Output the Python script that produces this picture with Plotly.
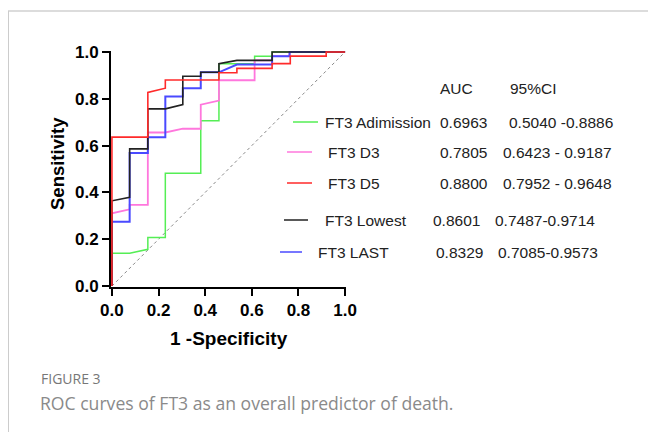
import plotly.graph_objects as go

# ---- data ----
adm_x = [0, 0, 0.076, 0.154, 0.154, 0.229, 0.229, 0.381, 0.381, 0.459, 0.459, 0.612, 0.612, 0.687, 0.687, 1.0]
adm_y = [0, 0.140, 0.140, 0.157, 0.207, 0.207, 0.482, 0.482, 0.706, 0.706, 0.950, 0.950, 0.982, 0.982, 1.0, 1.0]

d3_x = [0, 0, 0.076, 0.076, 0.154, 0.154, 0.229, 0.304, 0.381, 0.381, 0.459, 0.459, 0.612, 0.612, 0.687, 0.687, 0.762, 0.762, 1.0]
d3_y = [0, 0.311, 0.328, 0.347, 0.347, 0.656, 0.656, 0.672, 0.672, 0.775, 0.792, 0.879, 0.879, 0.964, 0.964, 0.982, 0.982, 1.0, 1.0]

d5_x = [0, 0, 0.154, 0.154, 0.229, 0.229, 0.459, 0.459, 0.536, 0.536, 0.687, 0.687, 0.765, 0.765, 0.919, 0.919, 1.0]
d5_y = [0, 0.636, 0.636, 0.827, 0.845, 0.880, 0.880, 0.911, 0.911, 0.930, 0.930, 0.950, 0.950, 0.982, 0.982, 1.0, 1.0]

low_x = [0, 0, 0.076, 0.076, 0.154, 0.154, 0.229, 0.304, 0.304, 0.381, 0.381, 0.459, 0.459, 0.536, 0.687, 0.687, 1.0]
low_y = [0, 0.364, 0.379, 0.586, 0.586, 0.757, 0.757, 0.775, 0.896, 0.896, 0.913, 0.913, 0.950, 0.964, 0.964, 1.0, 1.0]

last_x = [0, 0, 0.076, 0.076, 0.154, 0.154, 0.229, 0.229, 0.304, 0.304, 0.381, 0.381, 0.459, 0.536, 0.687, 0.687, 0.762, 0.762, 1.0]
last_y = [0, 0.275, 0.275, 0.568, 0.568, 0.636, 0.636, 0.810, 0.810, 0.845, 0.845, 0.913, 0.913, 0.946, 0.946, 0.982, 0.982, 1.0, 1.0]

diag_x = [0, 1]
diag_y = [0, 1]

series_names = ["FT3 Adimission", "FT3 D3", "FT3 D5", "FT3 Lowest", "FT3 LAST"]
series_auc = ["0.6963", "0.7805", "0.8800", "0.8601", "0.8329"]
series_ci = ["0.5040 -0.8886", "0.6423 - 0.9187", "0.7952 - 0.9648", "0.7487-0.9714", "0.7085-0.9573"]
series_colors = ["#55ee55", "#ff77dd", "#ff2a2a", "#222222", "#4a4aff"]

tick_vals = [0, 0.2, 0.4, 0.6, 0.8, 1.0]
tick_text = ["0.0", "0.2", "0.4", "0.6", "0.8", "1.0"]

# ---- layout helpers (pixel -> paper) ----
W, H = 648, 432
L, R, T, B = 111, 346, 51, 287


def px(x):
    return (x - L) / (R - L)


def py(y):
    return (B - y) / (B - T)


fig = go.Figure()

fig.add_trace(go.Scatter(x=diag_x, y=diag_y, mode="lines",
                         line=dict(color="#888888", width=1, dash="dot"),
                         showlegend=False, hoverinfo="skip"))

curves = [(adm_x, adm_y), (d3_x, d3_y), (last_x, last_y), (low_x, low_y), (d5_x, d5_y)]
order = [0, 1, 4, 3, 2]
widths = [1.5, 1.8, 1.6, 1.6, 2.0]
for (cx, cy), idx in zip(curves, order):
    fig.add_trace(go.Scatter(x=cx, y=cy, mode="lines",
                             line=dict(color=series_colors[idx], width=widths[idx]),
                             name=series_names[idx], showlegend=False))

axis_common = dict(
    showgrid=False, zeroline=False, showline=True, linecolor="black", linewidth=2,
    ticks="outside", ticklen=7, tickwidth=2, tickcolor="black",
    tickvals=tick_vals, ticktext=tick_text,
    tickfont=dict(family="Liberation Sans, Arial", size=17, color="black", weight="bold"),
    range=[-0.004, 1.004], layer="below traces", mirror=False,
)

fig.update_layout(
    width=W, height=H,
    margin=dict(l=L, r=W - R, t=T, b=H - B),
    paper_bgcolor="white", plot_bgcolor="white",
    xaxis=axis_common,
    yaxis=axis_common,
    showlegend=False,
)

ann = []
txtfont = dict(family="Liberation Sans, Arial", size=15.5, color="#222222")
# axis titles
ann.append(dict(x=px(229), y=py(338), xref="paper", yref="paper", text="1 -Specificity",
                showarrow=False, xanchor="center", yanchor="middle",
                font=dict(family="Liberation Sans, Arial", size=19, color="black", weight="bold")))
ann.append(dict(x=px(57), y=py(164), xref="paper", yref="paper", text="Sensitivity",
                showarrow=False, xanchor="center", yanchor="middle", textangle=-90,
                font=dict(family="Liberation Sans, Arial", size=18.5, color="black", weight="bold")))
# legend table header
ann.append(dict(x=px(438), y=py(88), xref="paper", yref="paper", text="AUC", showarrow=False,
                xanchor="left", yanchor="middle", font=txtfont))
ann.append(dict(x=px(508), y=py(88), xref="paper", yref="paper", text="95%CI", showarrow=False,
                xanchor="left", yanchor="middle", font=txtfont))

row_y = [122, 152, 183, 220, 252]
line_x0 = [293, 287, 287, 284, 280]
line_x1 = [318, 312, 312, 308, 302]
name_x = [323, 326, 326, 323, 316]
auc_x = [438, 438, 438, 431, 434]
ci_x = [507, 501, 501, 493, 496]

shapes = []
for i in range(5):
    shapes.append(dict(type="line", xref="paper", yref="paper",
                       x0=px(line_x0[i]), x1=px(line_x1[i]), y0=py(row_y[i]), y1=py(row_y[i]),
                       line=dict(color=series_colors[i], width=1.5)))
    ann.append(dict(x=px(name_x[i]), y=py(row_y[i]), xref="paper", yref="paper", text=series_names[i],
                    showarrow=False, xanchor="left", yanchor="middle", font=txtfont))
    ann.append(dict(x=px(auc_x[i]), y=py(row_y[i]), xref="paper", yref="paper", text=series_auc[i],
                    showarrow=False, xanchor="left", yanchor="middle", font=txtfont))
    ann.append(dict(x=px(ci_x[i]), y=py(row_y[i]), xref="paper", yref="paper", text=series_ci[i],
                    showarrow=False, xanchor="left", yanchor="middle", font=txtfont))

# caption
ann.append(dict(x=px(39), y=py(378), xref="paper", yref="paper", text="FIGURE 3", showarrow=False,
                xanchor="left", yanchor="middle",
                font=dict(family="Open Sans, Liberation Sans", size=14, color="#777777")))
ann.append(dict(x=px(38), y=py(403), xref="paper", yref="paper",
                text="ROC curves of FT3 as an overall predictor of death.", showarrow=False,
                xanchor="left", yanchor="middle",
                font=dict(family="Open Sans, Liberation Sans", size=17.6, color="#8a8a8a")))

# page frame
shapes.append(dict(type="line", xref="paper", yref="paper", x0=px(8), x1=px(W), y0=py(11), y1=py(11),
                   line=dict(color="#dcdcdc", width=2)))
shapes.append(dict(type="line", xref="paper", yref="paper", x0=px(8.5), x1=px(8.5), y0=py(11), y1=py(H),
                   line=dict(color="#cccccc", width=1)))

fig.update_layout(annotations=ann, shapes=shapes)

fig.write_html("out.html")
